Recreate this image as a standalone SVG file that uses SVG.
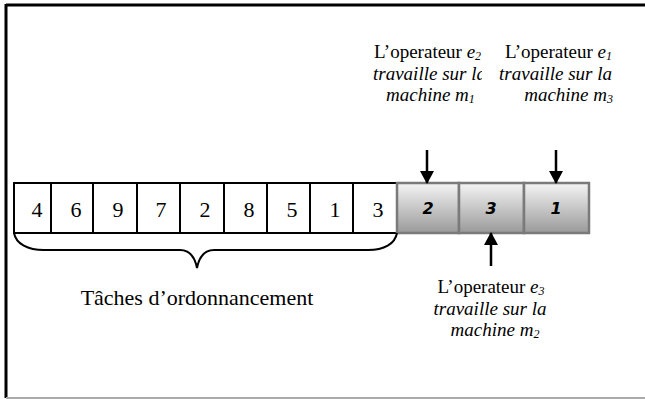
<svg xmlns="http://www.w3.org/2000/svg" width="645" height="399" viewBox="0 0 645 399">
<defs>
<linearGradient id="g" x1="0" y1="0" x2="0" y2="1">
<stop offset="0" stop-color="#f4f4f4"/>
<stop offset="1" stop-color="#9a9a9a"/>
</linearGradient>
<marker id="ah" markerWidth="14" markerHeight="14" refX="12" refY="7" orient="auto" markerUnits="userSpaceOnUse" viewBox="0 0 14 14">
<path d="M0,0 L13,7 L0,14 Z" fill="#000"/>
</marker>
<clipPath id="c1"><rect x="360" y="30" width="122" height="90"/></clipPath>
<clipPath id="c2"><rect x="490" y="30" width="124" height="90"/></clipPath>
</defs>
<style>
.cell{fill:#fff;stroke:#000;stroke-width:2}
.gcell{fill:url(#g);stroke:#7a7a7a;stroke-width:2.5}
.num{font-family:"Liberation Serif",serif;font-size:22px;text-anchor:middle}
.gnum{font-family:"DejaVu Sans",sans-serif;font-size:16px;font-style:italic;font-weight:bold;text-anchor:middle}
.lbl{font-family:"Liberation Serif",serif;font-size:19px}
.it{font-style:italic}
.sub{font-size:12px}
.arr{stroke:#000;stroke-width:2.5;fill:none}
</style>
<g id="frame">
<line x1="6" y1="5" x2="645" y2="5" stroke="#000" stroke-width="3"/>
<line x1="6" y1="4" x2="6" y2="398" stroke="#000" stroke-width="3"/>
<line x1="6" y1="398" x2="645" y2="398" stroke="#aaa" stroke-width="2"/>
</g>
<g id="tasks">
<rect class="cell" x="14" y="183" width="37" height="50"/>
<rect class="cell" x="51" y="183" width="42" height="50"/>
<rect class="cell" x="93" y="183" width="44" height="50"/>
<rect class="cell" x="137" y="183" width="43" height="50"/>
<rect class="cell" x="180" y="183" width="44" height="50"/>
<rect class="cell" x="224" y="183" width="43" height="50"/>
<rect class="cell" x="267" y="183" width="43" height="50"/>
<rect class="cell" x="310" y="183" width="43" height="50"/>
<rect class="cell" x="353" y="183" width="44" height="50"/>
<text class="num" x="37" y="217">4</text>
<text class="num" x="76" y="217">6</text>
<text class="num" x="118" y="217">9</text>
<text class="num" x="161" y="217">7</text>
<text class="num" x="205" y="217">2</text>
<text class="num" x="249" y="217">8</text>
<text class="num" x="292" y="217">5</text>
<text class="num" x="335" y="217">1</text>
<text class="num" x="378" y="217">3</text>
</g>
<g id="machines">
<rect class="gcell" x="397" y="183" width="62" height="50"/>
<rect class="gcell" x="459" y="183" width="65" height="50"/>
<rect class="gcell" x="524" y="183" width="65" height="50"/>
<text class="gnum" x="428" y="214">2</text>
<text class="gnum" x="491" y="214">3</text>
<text class="gnum" x="556" y="214">1</text>
</g>
<g id="brace">
<path d="M14,233 C16,244 28,250 44,250 L180,250 C190,250 195,258 197,268 C199,258 204,250 214,250 L368,250 C384,250 395,244 397,233" fill="none" stroke="#000" stroke-width="2"/>
<text class="lbl" x="197" y="305" text-anchor="middle" style="font-size:22px">Tâches d’ordonnancement</text>
</g>
<g id="connectors">
<line class="arr" x1="427" y1="150" x2="427" y2="183" marker-end="url(#ah)"/>
<line class="arr" x1="556" y1="150" x2="556" y2="183" marker-end="url(#ah)"/>
<line class="arr" x1="491" y1="266" x2="491" y2="233" marker-end="url(#ah)"/>
</g>
<g id="label-e2" clip-path="url(#c1)">
<text class="lbl" x="374" y="58">L’operateur <tspan class="it">e<tspan class="sub" dy="2">2</tspan></tspan></text>
<text class="lbl it" x="373" y="80">travaille sur la</text>
<text class="lbl it" x="386" y="101">machine m<tspan class="sub" dy="2">1</tspan></text>
</g>
<g id="label-e1" clip-path="url(#c2)">
<text class="lbl" x="612" y="58" text-anchor="end">L’operateur <tspan class="it">e<tspan class="sub" dy="2">1</tspan></tspan></text>
<text class="lbl it" x="612" y="80" text-anchor="end">travaille sur la</text>
<text class="lbl it" x="613" y="101" text-anchor="end">machine m<tspan class="sub" dy="2">3</tspan></text>
</g>
<g id="label-e3">
<text class="lbl" x="491" y="293" text-anchor="middle">L’operateur <tspan class="it">e<tspan class="sub" dy="2">3</tspan></tspan></text>
<text class="lbl it" x="490" y="315" text-anchor="middle">travaille sur la</text>
<text class="lbl it" x="495" y="336" text-anchor="middle">machine m<tspan class="sub" dy="2">2</tspan></text>
</g>
</svg>
